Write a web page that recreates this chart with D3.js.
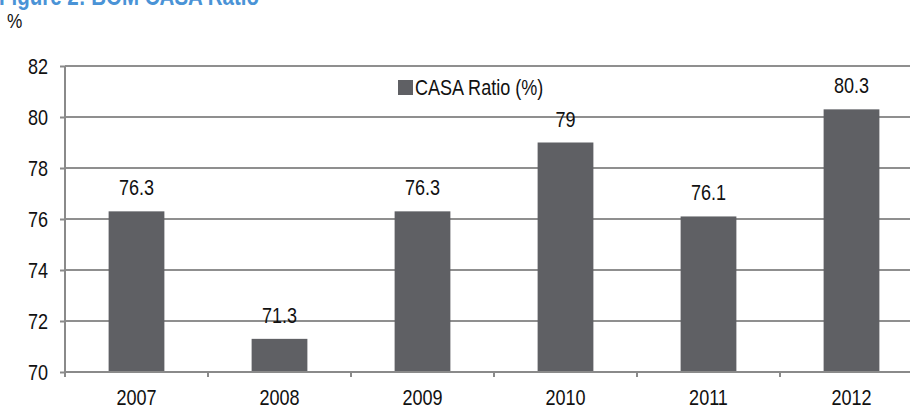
<!DOCTYPE html>
<html>
<head>
<meta charset="utf-8">
<script src="https://cdn.jsdelivr.net/npm/d3@7"></script>
<style>
  body { margin: 0; background: #fff; }
  svg { display: block; }
  text { font-family: "Liberation Sans", Arial, sans-serif; }
</style>
</head>
<body>
<div id="chart"></div>
<script>
// datos del gráfico
const years = ['2007', '2008', '2009', '2010', '2011', '2012'];
const casaRatio = [76.3, 71.3, 76.3, 79, 76.1, 80.3];
const yTicks = [70, 72, 74, 76, 78, 80, 82];

const width = 910;
const height = 405;
const margin = { left: 65, top: 66, bottom: 33 };
const plotRight = 923; // el área del gráfico sigue fuera de la ventana
const narrow = 0.82;   // la letra del original es estrecha

const svg = d3.select('#chart')
    .append('svg')
    .attr('width', width)
    .attr('height', height);

const x = d3.scaleBand()
    .domain(years)
    .range([margin.left, plotRight])
    .paddingInner(0.61)
    .paddingOuter(0.305);

const y = d3.scaleLinear()
    .domain([70, 82])
    .range([height - margin.bottom, margin.top]);

// texto estrecho: posición por transform
function place(sel, fx, fy) {
    sel.attr('transform', (d, i) => `translate(${fx(d, i)},${fy(d, i)}) scale(${narrow},1)`);
}

// título (cortado arriba)
svg.append('text')
    .attr('transform', `translate(-1,5) scale(${narrow},1)`)
    .attr('fill', '#4a93d6')
    .style('font-weight', 'bold')
    .style('font-size', '25px')
    .text('Figure 2: BOM CASA Ratio');

svg.append('text')
    .attr('transform', `translate(7,28) scale(${narrow},1)`)
    .attr('fill', '#111')
    .style('font-size', '21px')
    .text('%');

// líneas de la cuadrícula
svg.append('g')
    .selectAll('line')
    .data(yTicks.filter(d => d > 70))
    .enter().append('line')
    .attr('x1', margin.left)
    .attr('x2', plotRight)
    .attr('y1', d => y(d))
    .attr('y2', d => y(d))
    .attr('stroke', '#8f8f8f')
    .attr('stroke-width', 2);

// eje y
const yAxis = svg.append('g')
    .attr('transform', `translate(${margin.left},0)`)
    .call(d3.axisLeft(y).tickValues(yTicks).tickSize(5).tickPadding(12));
yAxis.select('.domain')
    .attr('d', `M0,${y(82)}V${y(70) + 5}`)
    .attr('stroke', '#8a8a8a')
    .attr('stroke-width', 2);
yAxis.selectAll('.tick line').attr('stroke', '#8a8a8a').attr('stroke-width', 2);
yAxis.selectAll('.tick text')
    .attr('x', null)
    .attr('dy', '0.35em')
    .attr('transform', `translate(-17,0) scale(${narrow},1)`)
    .attr('fill', '#111')
    .style('font-size', '22px')
    .style('font-family', '"Liberation Sans", Arial, sans-serif');

// barras
svg.append('g')
    .selectAll('rect')
    .data(years)
    .enter().append('rect')
    .attr('x', d => x(d))
    .attr('y', (d, i) => y(casaRatio[i]))
    .attr('width', x.bandwidth())
    .attr('height', (d, i) => y(70) - y(casaRatio[i]))
    .attr('fill', '#5f6064');

// eje x
const step = x.step();
svg.append('line')
    .attr('x1', margin.left)
    .attr('x2', plotRight)
    .attr('y1', y(70))
    .attr('y2', y(70))
    .attr('stroke', '#8a8a8a')
    .attr('stroke-width', 2);

// marcas entre categorías
svg.append('g')
    .selectAll('line')
    .data(years.slice(1))
    .enter().append('line')
    .attr('x1', d => x(d) + x.bandwidth() / 2 - step / 2)
    .attr('x2', d => x(d) + x.bandwidth() / 2 - step / 2)
    .attr('y1', y(70))
    .attr('y2', y(70) + 5)
    .attr('stroke', '#8a8a8a')
    .attr('stroke-width', 2);

svg.append('g')
    .selectAll('text')
    .data(years)
    .enter().append('text')
    .call(place, d => x(d) + x.bandwidth() / 2, () => 405)
    .attr('text-anchor', 'middle')
    .attr('fill', '#111')
    .style('font-size', '22px')
    .text(d => d);

// etiquetas de valores
svg.append('g')
    .selectAll('text')
    .data(years)
    .enter().append('text')
    .call(place, d => x(d) + x.bandwidth() / 2, (d, i) => y(casaRatio[i]) - 16)
    .attr('text-anchor', 'middle')
    .attr('fill', '#111')
    .style('font-size', '22px')
    .text((d, i) => casaRatio[i]);

// leyenda
const legend = svg.append('g').attr('transform', 'translate(398,80)');
legend.append('rect')
    .attr('width', 15)
    .attr('height', 15)
    .attr('fill', '#5f6064');
legend.append('text')
    .attr('transform', `translate(17,15) scale(${narrow},1)`)
    .attr('fill', '#111')
    .style('font-size', '22px')
    .text('CASA Ratio (%)');
</script>
</body>
</html>
